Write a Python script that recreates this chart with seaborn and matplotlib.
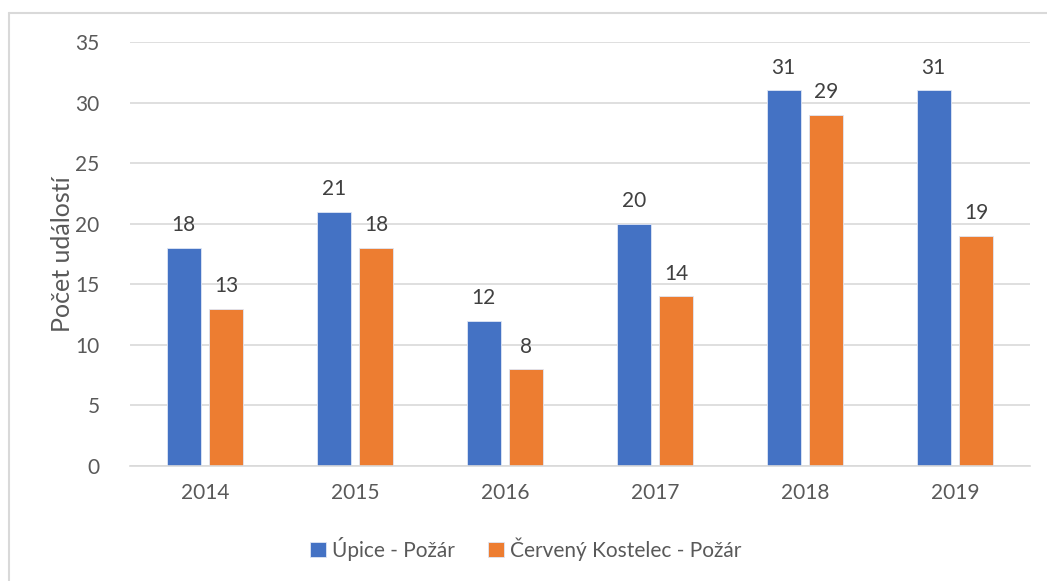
import matplotlib
matplotlib.use("Agg")
import matplotlib.pyplot as plt
from matplotlib.lines import Line2D
import seaborn as sns
import pandas as pd

years = ["2014", "2015", "2016", "2017", "2018", "2019"]
series_names = ["Úpice - Požár", "Červený Kostelec - Požár"]
upice = [18, 21, 12, 20, 31, 31]
kostelec = [13, 18, 8, 14, 29, 19]
yticks = [0, 5, 10, 15, 20, 25, 30, 35]
colors = ["#4472C4", "#ED7D31"]

df = pd.DataFrame({
    "rok": years * 2,
    "serie": [series_names[0]] * len(years) + [series_names[1]] * len(years),
    "pocet": upice + kostelec,
})

sns.set_theme(style="white")
plt.rcParams["font.family"] = ["Lato", "DejaVu Sans"]

fig = plt.figure(figsize=(10.47, 5.81), dpi=100)
ax = fig.add_axes([130 / 1047, 1 - 466 / 581, 900 / 1047, 424 / 581])

sns.barplot(data=df, x="rok", y="pocet", hue="serie", order=years,
            hue_order=series_names, palette=colors, width=0.567, gap=0.21,
            saturation=1, linewidth=0.6, edgecolor="#dfe6f5", ax=ax, legend=True)

ax.set_ylim(0, 35)
ax.set_yticks(yticks)
ax.grid(axis="y", color="#d9d9d9", linewidth=1.2)
ax.set_axisbelow(True)
for s in ["top", "right", "left"]:
    ax.spines[s].set_visible(False)
ax.spines["bottom"].set_color("#d9d9d9")
ax.spines["bottom"].set_linewidth(1.2)
ax.tick_params(axis="both", length=0, labelsize=15, labelcolor="#595959")
ax.tick_params(axis="y", pad=22)
ax.tick_params(axis="x", pad=12)
ax.set_xlabel("")
ax.set_ylabel("Počet událostí", fontsize=18, color="#595959", labelpad=1)

for cont in ax.containers:
    ax.bar_label(cont, padding=9, fontsize=15, color="#404040")

handles, labels = ax.get_legend_handles_labels()
ax.legend(handles, labels, loc="center", bbox_to_anchor=(0.502, 1 - 549 / 581),
          bbox_transform=fig.transFigure, ncol=2, frameon=False, fontsize=15,
          labelcolor="#595959", handlelength=0.75, handleheight=0.75,
          handletextpad=0.3, columnspacing=1.6)

fig.add_artist(Line2D([9 / 1047, 9 / 1047], [0, 1 - 13 / 581], color="#d9d9d9", linewidth=1.5))
fig.add_artist(Line2D([9 / 1047, 1], [1 - 13 / 581, 1 - 13 / 581], color="#d9d9d9", linewidth=1.5))

fig.savefig("out.png", dpi=100)
